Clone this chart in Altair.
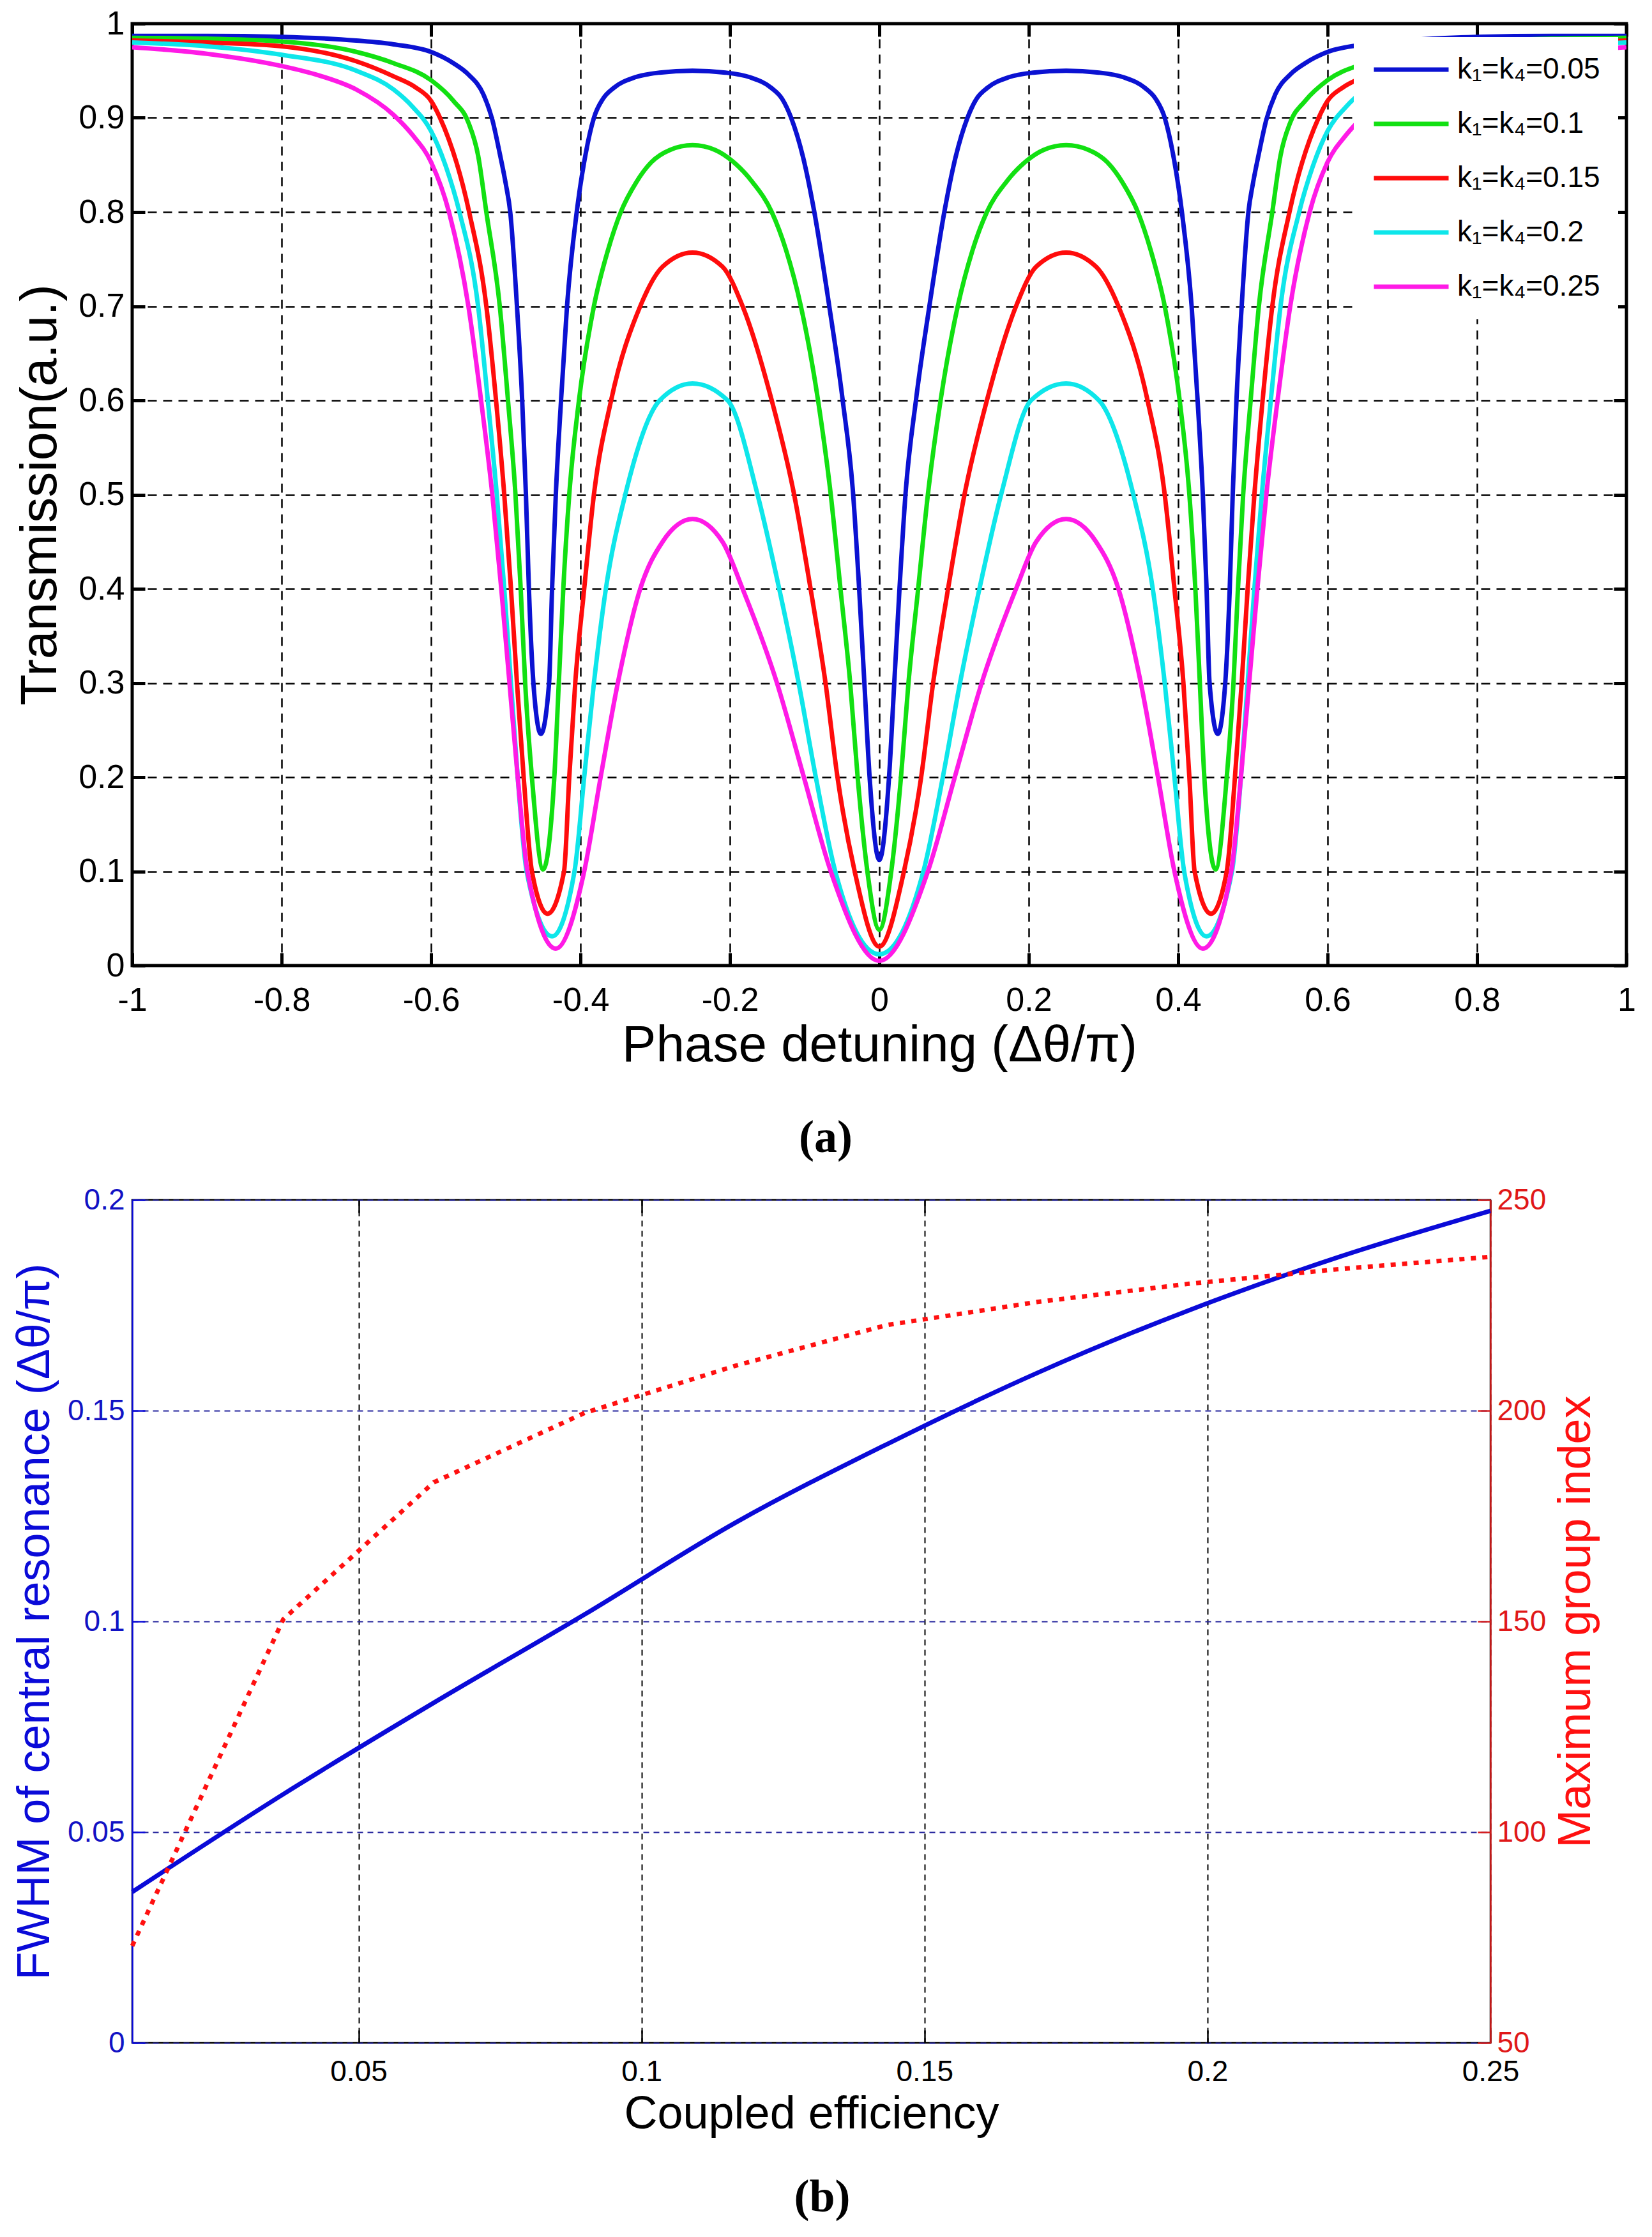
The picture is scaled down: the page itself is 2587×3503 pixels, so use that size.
import altair as alt
import pandas as pd

FONT = "Liberation Sans"
SERIF = "Liberation Serif"

# ---------------- Panel (a): transmission spectra ----------------
SERIES = ["k₁=k₄=0.05", "k₁=k₄=0.1", "k₁=k₄=0.15", "k₁=k₄=0.2", "k₁=k₄=0.25"]
COLORS = ["#0b12d2", "#12e012", "#ff0c0c", "#0ee6ea", "#ff1ae6"]

K005 = [(-1.0, 0.987), (-0.9, 0.987), (-0.8, 0.986), (-0.7, 0.982), (-0.65, 0.978), (-0.6, 0.970),
        (-0.57, 0.958), (-0.55, 0.946), (-0.53, 0.925), (-0.518, 0.898), (-0.508, 0.862), (-0.5, 0.83),
        (-0.494, 0.80), (-0.485, 0.70), (-0.478, 0.60), (-0.473, 0.50), (-0.469, 0.40), (-0.463, 0.30),
        (-0.453, 0.246), (-0.442, 0.30), (-0.438, 0.40), (-0.433, 0.50), (-0.426, 0.60), (-0.418, 0.70),
        (-0.405, 0.80), (-0.393, 0.862), (-0.382, 0.90), (-0.37, 0.92), (-0.355, 0.932), (-0.327, 0.943),
        (-0.294, 0.948), (-0.25, 0.95), (-0.206, 0.948), (-0.173, 0.943), (-0.145, 0.932), (-0.13, 0.92),
        (-0.118, 0.90), (-0.102, 0.858), (-0.087, 0.80), (-0.067, 0.70), (-0.049, 0.60), (-0.035, 0.50),
        (-0.027, 0.40), (-0.020, 0.30), (-0.013, 0.20), (0.0, 0.112),
        (0.013, 0.20), (0.020, 0.30), (0.027, 0.40), (0.035, 0.50), (0.049, 0.60), (0.067, 0.70),
        (0.087, 0.80), (0.102, 0.858), (0.118, 0.90), (0.13, 0.92), (0.145, 0.932), (0.173, 0.943),
        (0.206, 0.948), (0.25, 0.95), (0.294, 0.948), (0.327, 0.943), (0.355, 0.932), (0.37, 0.92),
        (0.382, 0.90), (0.393, 0.862), (0.405, 0.80), (0.418, 0.70), (0.426, 0.60), (0.433, 0.50),
        (0.438, 0.40), (0.442, 0.30), (0.453, 0.246), (0.463, 0.30), (0.469, 0.40), (0.473, 0.50),
        (0.478, 0.60), (0.485, 0.70), (0.494, 0.80), (0.5, 0.83), (0.508, 0.862), (0.518, 0.898),
        (0.53, 0.925), (0.55, 0.946), (0.57, 0.958), (0.6, 0.970), (0.65, 0.978), (0.7, 0.982),
        (0.8, 0.986), (0.9, 0.987), (1.0, 0.987)]

K010 = [(-1.0, 0.985), (-0.9, 0.984), (-0.8, 0.981), (-0.7, 0.970), (-0.65, 0.958), (-0.6, 0.940),
        (-0.57, 0.918), (-0.55, 0.895), (-0.537, 0.86), (-0.526, 0.80), (-0.508, 0.70), (-0.497, 0.60),
        (-0.487, 0.50), (-0.480, 0.40), (-0.474, 0.30), (-0.465, 0.20), (-0.450, 0.102), (-0.435, 0.20),
        (-0.429, 0.30), (-0.423, 0.40), (-0.415, 0.50), (-0.402, 0.60), (-0.382, 0.70), (-0.363, 0.76),
        (-0.346, 0.80), (-0.325, 0.832), (-0.305, 0.853), (-0.28, 0.866), (-0.25, 0.871), (-0.22, 0.866),
        (-0.195, 0.853), (-0.17, 0.832), (-0.144, 0.80), (-0.125, 0.76), (-0.105, 0.70), (-0.082, 0.60),
        (-0.065, 0.50), (-0.052, 0.40), (-0.039, 0.30), (-0.029, 0.20), (-0.016, 0.10), (0.0, 0.038),
        (0.016, 0.10), (0.029, 0.20), (0.039, 0.30), (0.052, 0.40), (0.065, 0.50), (0.082, 0.60),
        (0.105, 0.70), (0.125, 0.76), (0.144, 0.80), (0.17, 0.832), (0.195, 0.853), (0.22, 0.866),
        (0.25, 0.871), (0.28, 0.866), (0.305, 0.853), (0.325, 0.832), (0.346, 0.80), (0.363, 0.76),
        (0.382, 0.70), (0.402, 0.60), (0.415, 0.50), (0.423, 0.40), (0.429, 0.30), (0.435, 0.20),
        (0.450, 0.102), (0.465, 0.20), (0.474, 0.30), (0.480, 0.40), (0.487, 0.50), (0.497, 0.60),
        (0.508, 0.70), (0.526, 0.80), (0.537, 0.86), (0.55, 0.895), (0.57, 0.918), (0.6, 0.940),
        (0.65, 0.958), (0.7, 0.970), (0.8, 0.981), (0.9, 0.984), (1.0, 0.985)]

K015 = [(-1.0, 0.982), (-0.9, 0.980), (-0.8, 0.976), (-0.7, 0.960), (-0.65, 0.944), (-0.62, 0.932),
        (-0.6, 0.918), (-0.588, 0.90), (-0.549, 0.80), (-0.526, 0.70), (-0.513, 0.60), (-0.502, 0.50),
        (-0.493, 0.40), (-0.485, 0.30), (-0.476, 0.20), (-0.465, 0.10), (-0.444, 0.055), (-0.422, 0.10),
        (-0.415, 0.20), (-0.407, 0.30), (-0.395, 0.40), (-0.382, 0.50), (-0.359, 0.60), (-0.320, 0.70),
        (-0.29, 0.742), (-0.25, 0.757), (-0.21, 0.742), (-0.183, 0.70), (-0.144, 0.60), (-0.114, 0.50),
        (-0.092, 0.40), (-0.072, 0.30), (-0.056, 0.20), (-0.033, 0.10), (0.0, 0.020),
        (0.033, 0.10), (0.056, 0.20), (0.072, 0.30), (0.092, 0.40), (0.114, 0.50), (0.144, 0.60),
        (0.183, 0.70), (0.21, 0.742), (0.25, 0.757), (0.29, 0.742), (0.320, 0.70), (0.359, 0.60),
        (0.382, 0.50), (0.395, 0.40), (0.407, 0.30), (0.415, 0.20), (0.422, 0.10), (0.444, 0.055),
        (0.465, 0.10), (0.476, 0.20), (0.485, 0.30), (0.493, 0.40), (0.502, 0.50), (0.513, 0.60),
        (0.526, 0.70), (0.549, 0.80), (0.588, 0.90), (0.6, 0.918), (0.62, 0.932), (0.65, 0.944),
        (0.7, 0.960), (0.8, 0.976), (0.9, 0.980), (1.0, 0.982)]

K020 = [(-1.0, 0.980), (-0.9, 0.976), (-0.8, 0.967), (-0.7, 0.950), (-0.65, 0.930), (-0.625, 0.912),
        (-0.6, 0.886), (-0.58, 0.848), (-0.562, 0.80), (-0.537, 0.70), (-0.524, 0.60), (-0.512, 0.50),
        (-0.502, 0.40), (-0.493, 0.30), (-0.484, 0.20), (-0.472, 0.10), (-0.438, 0.031), (-0.408, 0.10),
        (-0.395, 0.20), (-0.382, 0.30), (-0.366, 0.40), (-0.340, 0.50), (-0.294, 0.60), (-0.25, 0.618),
        (-0.203, 0.60), (-0.163, 0.50), (-0.134, 0.40), (-0.108, 0.30), (-0.085, 0.20), (-0.059, 0.10),
        (0.0, 0.012),
        (0.059, 0.10), (0.085, 0.20), (0.108, 0.30), (0.134, 0.40), (0.163, 0.50), (0.203, 0.60),
        (0.25, 0.618), (0.294, 0.60), (0.340, 0.50), (0.366, 0.40), (0.382, 0.30), (0.395, 0.20),
        (0.408, 0.10), (0.438, 0.031), (0.472, 0.10), (0.484, 0.20), (0.493, 0.30), (0.502, 0.40),
        (0.512, 0.50), (0.524, 0.60), (0.537, 0.70), (0.562, 0.80), (0.58, 0.848), (0.6, 0.886),
        (0.625, 0.912), (0.65, 0.930), (0.7, 0.950), (0.8, 0.967), (0.9, 0.976), (1.0, 0.980)]

K025 = [(-1.0, 0.975), (-0.9, 0.968), (-0.8, 0.955), (-0.75, 0.945), (-0.7, 0.930), (-0.65, 0.903),
        (-0.625, 0.882), (-0.6, 0.853), (-0.576, 0.80), (-0.550, 0.70), (-0.533, 0.60), (-0.518, 0.50),
        (-0.506, 0.40), (-0.495, 0.30), (-0.484, 0.20), (-0.471, 0.10), (-0.433, 0.018), (-0.395, 0.10),
        (-0.373, 0.20), (-0.350, 0.30), (-0.320, 0.40), (-0.29, 0.45), (-0.25, 0.474), (-0.21, 0.45),
        (-0.183, 0.40), (-0.137, 0.30), (-0.101, 0.20), (-0.065, 0.10), (0.0, 0.005),
        (0.065, 0.10), (0.101, 0.20), (0.137, 0.30), (0.183, 0.40), (0.21, 0.45), (0.25, 0.474),
        (0.29, 0.45), (0.320, 0.40), (0.350, 0.30), (0.373, 0.20), (0.395, 0.10), (0.433, 0.018),
        (0.471, 0.10), (0.484, 0.20), (0.495, 0.30), (0.506, 0.40), (0.518, 0.50), (0.533, 0.60),
        (0.550, 0.70), (0.576, 0.80), (0.6, 0.853), (0.625, 0.882), (0.65, 0.903), (0.7, 0.930),
        (0.75, 0.945), (0.8, 0.955), (0.9, 0.968), (1.0, 0.975)]

CURVES = [K005, K010, K015, K020, K025]
X_TICKS_A = [-1, -0.8, -0.6, -0.4, -0.2, 0, 0.2, 0.4, 0.6, 0.8, 1]
Y_TICKS_A = [0, 0.1, 0.2, 0.3, 0.4, 0.5, 0.6, 0.7, 0.8, 0.9, 1]

# ---------------- Panel (b): FWHM and group index ----------------
K_B = [0.01, 0.0367, 0.0633, 0.09, 0.1167, 0.1433, 0.17, 0.1967, 0.2233, 0.25]
FWHM_B = [0.0358, 0.059, 0.0807, 0.1017, 0.1235, 0.142, 0.159, 0.1738, 0.1865, 0.1974]
NG_B = [73, 150.5, 183, 199.5, 210.7, 220.3, 225.8, 230.1, 233.6, 236.5]
X_TICKS_B = [0.05, 0.1, 0.15, 0.2, 0.25]
YL_TICKS_B = [0, 0.05, 0.1, 0.15, 0.2]
YR_TICKS_B = [50, 100, 150, 200, 250]

LBL = "'' + datum.value"

rows = []
for name, pts in zip(SERIES, CURVES):
    for xv, tv in pts:
        rows.append({"series": name, "x": xv, "t": tv})
df_a = pd.DataFrame(rows)
df_b = pd.DataFrame({"k": K_B, "fwhm": FWHM_B, "ng": NG_B})


def tick_axis(orient, values, size, width, color):
    return alt.Axis(orient=orient, values=values, offset=-size, tickSize=size, tickWidth=width,
                    tickColor=color, ticks=True, labels=False, domain=False, grid=False,
                    title=None, minExtent=0, maxExtent=0)


xs_a = alt.Scale(domain=[-1, 1], nice=False, zero=False)
ys_a = alt.Scale(domain=[0, 1], nice=False, zero=False)

lines_a = alt.Chart(df_a).mark_line(strokeWidth=7, interpolate="monotone", clip=True).encode(
    x=alt.X("x:Q", scale=xs_a, axis=alt.Axis(
        orient="bottom", values=X_TICKS_A, labelExpr=LBL, title="Phase detuning (Δθ/π)",
        grid=True, gridColor="black", gridDash=[14, 10], gridWidth=2.5, gridOpacity=1,
        ticks=False, domain=False, labelFont=FONT, labelFontSize=52, labelColor="black",
        labelPadding=29, labelFlush=False, labelOverlap=False, labelBound=False,
        titleFont=FONT, titleFontSize=80, titleFontWeight="normal", titleColor="black",
        titlePadding=6)),
    y=alt.Y("t:Q", scale=ys_a, axis=alt.Axis(
        orient="left", values=Y_TICKS_A, labelExpr=LBL, title="Transmission(a.u.)",
        grid=True, gridColor="black", gridDash=[14, 10], gridWidth=2.5, gridOpacity=1,
        ticks=False, domain=False, labelFont=FONT, labelFontSize=52, labelColor="black",
        labelPadding=12, labelFlush=False, labelOverlap=False, labelBound=False,
        titleFont=FONT, titleFontSize=80, titleFontWeight="normal", titleColor="black",
        titlePadding=18)),
    color=alt.Color("series:N", scale=alt.Scale(domain=SERIES, range=COLORS), legend=alt.Legend(
        orient="none", legendX=1913, legendY=21, fillColor="white", padding=28, title=None,
        symbolType="M-1,0H5", symbolSize=1521, symbolStrokeWidth=7, symbolOpacity=1,
        labelFont=FONT, labelFontSize=46, labelColor="black", labelOffset=88, rowPadding=39,
        labelLimit=0)),
)

ticks_a1 = alt.Chart(df_a).mark_line(opacity=0).encode(
    x=alt.X("x:Q", scale=xs_a, axis=tick_axis("bottom", X_TICKS_A, 20, 5, "black")),
    y=alt.Y("t:Q", scale=ys_a, axis=tick_axis("left", Y_TICKS_A, 20, 5, "black")),
)
ticks_a2 = alt.Chart(df_a).mark_line(opacity=0).encode(
    x=alt.X("x:Q", scale=xs_a, axis=tick_axis("top", X_TICKS_A, 20, 5, "black")),
    y=alt.Y("t:Q", scale=ys_a, axis=tick_axis("right", Y_TICKS_A, 20, 5, "black")),
)

chart_a = alt.layer(lines_a, ticks_a1, ticks_a2).resolve_axis(
    x="independent", y="independent"
).properties(
    width=2340, height=1475,
    view=alt.ViewBackground(stroke="black", strokeWidth=5),
    title=alt.TitleParams("(a)", orient="bottom", anchor="middle", frame="group", font=SERIF,
                          fontSize=72, fontWeight="bold", color="black", offset=70, dx=-84),
)

# ---------------- Panel (b) ----------------
BLUE = "#0a0ad8"
BLUE_TXT = "#1212c4"
RED = "#ff1010"
RED_TXT = "#e01818"

xs_b = alt.Scale(domain=[0.01, 0.25], nice=False, zero=False)
yl_b = alt.Scale(domain=[0, 0.2], nice=False, zero=False)
yr_b = alt.Scale(domain=[50, 250], nice=False, zero=False)

fwhm_line = alt.Chart(df_b).mark_line(strokeWidth=7, color=BLUE, interpolate="monotone").encode(
    x=alt.X("k:Q", scale=xs_b, axis=alt.Axis(
        orient="bottom", values=X_TICKS_B, labelExpr=LBL, title="Coupled efficiency",
        grid=True, gridColor="black", gridDash=[9, 7], gridWidth=2, gridOpacity=1,
        ticks=False, domain=False, labelFont=FONT, labelFontSize=46, labelColor="black",
        labelPadding=23, labelFlush=False, labelOverlap=False, labelBound=False,
        titleFont=FONT, titleFontSize=72, titleFontWeight="normal", titleColor="black",
        titlePadding=8)),
    y=alt.Y("fwhm:Q", scale=yl_b, axis=alt.Axis(
        orient="left", values=YL_TICKS_B, labelExpr=LBL,
        title="FWHM of central resonance (Δθ/π)",
        grid=True, gridColor="#23239c", gridDash=[9, 7], gridWidth=2, gridOpacity=1,
        ticks=False, domain=True, domainColor=BLUE, domainWidth=2.5,
        labelFont=FONT, labelFontSize=46, labelColor=BLUE_TXT,
        labelPadding=12, labelFlush=False, labelOverlap=False, labelBound=False,
        titleFont=FONT, titleFontSize=72, titleFontWeight="normal", titleColor=BLUE,
        titlePadding=14)),
)

ng_line = alt.Chart(df_b).mark_line(strokeWidth=7, color=RED, strokeDash=[8, 10], strokeCap="butt").encode(
    x=alt.X("k:Q", scale=xs_b, axis=None),
    y=alt.Y("ng:Q", scale=yr_b, axis=alt.Axis(
        orient="right", values=YR_TICKS_B, title="Maximum group index",
        grid=False, ticks=False, domain=True, domainColor="#d41c1c", domainWidth=2.5,
        labelFont=FONT, labelFontSize=46, labelColor=RED_TXT,
        labelPadding=10, labelFlush=False, labelOverlap=False, labelBound=False,
        titleFont=FONT, titleFontSize=72, titleFontWeight="normal", titleColor=RED,
        titleAngle=270, titleBaseline="top", titlePadding=12)),
)

ticks_b1 = alt.Chart(df_b).mark_line(opacity=0).encode(
    x=alt.X("k:Q", scale=xs_b, axis=tick_axis("bottom", X_TICKS_B, 20, 2.5, "black")),
    y=alt.Y("fwhm:Q", scale=yl_b, axis=tick_axis("left", YL_TICKS_B, 20, 2.5, BLUE)),
)
ticks_b2 = alt.Chart(df_b).mark_line(opacity=0).encode(
    x=alt.X("k:Q", scale=xs_b, axis=tick_axis("top", X_TICKS_B, 20, 2.5, "black")),
    y=alt.Y("ng:Q", scale=yr_b, axis=tick_axis("right", YR_TICKS_B, 20, 2.5, "#d41c1c")),
)

chart_b = alt.layer(fwhm_line, ng_line, ticks_b1, ticks_b2).resolve_scale(
    y="independent"
).resolve_axis(
    x="independent", y="independent"
).properties(
    width=2127, height=1320,
    view=alt.ViewBackground(stroke="black", strokeWidth=2.5),
    title=alt.TitleParams("(b)", orient="bottom", anchor="middle", frame="group", font=SERIF,
                          fontSize=72, fontWeight="bold", color="black", offset=60, dx=17),
)

chart = alt.vconcat(chart_a, chart_b, spacing=33).properties(
    padding={"left": 9, "top": 0, "right": 10, "bottom": 10},
    background="white",
)

chart.save("out.html", embed_options={"renderer": "svg", "actions": False})
